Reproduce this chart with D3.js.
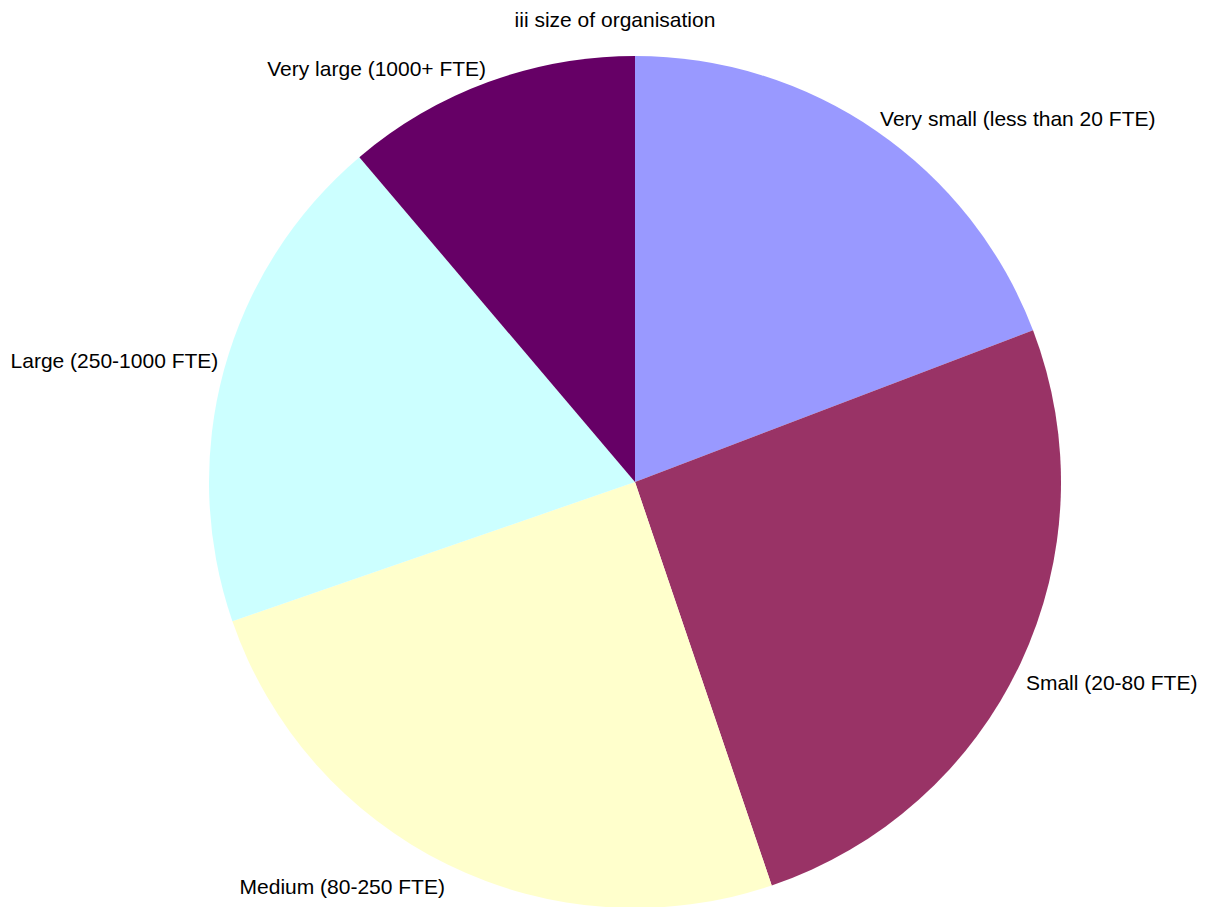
<!DOCTYPE html>
<html>
<head>
<meta charset="utf-8">
<script src="https://cdn.jsdelivr.net/npm/d3@7"></script>
<style>
  body { margin: 0; background: #fff; }
  text { font-family: "Liberation Sans", Arial, sans-serif; fill: #000; }
</style>
</head>
<body>
<script>
// data (share of respondents, %)
var categories = ["Very small (less than 20 FTE)", "Small (20-80 FTE)", "Medium (80-250 FTE)",
                  "Large (250-1000 FTE)", "Very large (1000+ FTE)"];
var values = [19.2, 25.6, 24.9, 19.1, 11.2];
var colours = ["#9999FF", "#993366", "#FFFFCC", "#CCFFFF", "#660066"];
var title = "iii size of organisation";

var width = 1208,
    height = 907;

var cx = 635, cy = 482, radius = 426;

var svg = d3.select("body").append("svg")
    .attr("width", width)
    .attr("height", height);

var pie = d3.pie().sort(null).value(function(d) { return d; });
var arc = d3.arc().innerRadius(0).outerRadius(radius);
var color = d3.scaleOrdinal().domain(categories).range(colours);

var slices = pie(values);

var g = svg.append("g")
    .attr("transform", "translate(" + cx + "," + cy + ")");

g.selectAll(".slice")
    .data(slices)
    .enter()
    .append("path")
    .attr("class", "slice")
    .attr("d", arc)
    .attr("fill", function(d, i) { return color(categories[i]); });

// labels just outside the rim, at the middle of each slice
var labelR = radius + 6;
g.selectAll(".label")
    .data(slices)
    .enter()
    .append("text")
    .attr("class", "label")
    .attr("font-size", 21)
    .each(function(d, i) {
        var a = (d.startAngle + d.endAngle) / 2;
        var x = labelR * Math.sin(a),
            y = -labelR * Math.cos(a);
        d3.select(this)
            .attr("x", x)
            .attr("y", Math.cos(a) > 0 ? y : y + 24)
            .attr("text-anchor", Math.sin(a) >= 0 ? "start" : "end")
            .text(categories[i]);
    });

svg.append("text")
    .attr("x", 615)
    .attr("y", 27)
    .attr("font-size", 21)
    .attr("text-anchor", "middle")
    .text(title);
</script>
</body>
</html>
